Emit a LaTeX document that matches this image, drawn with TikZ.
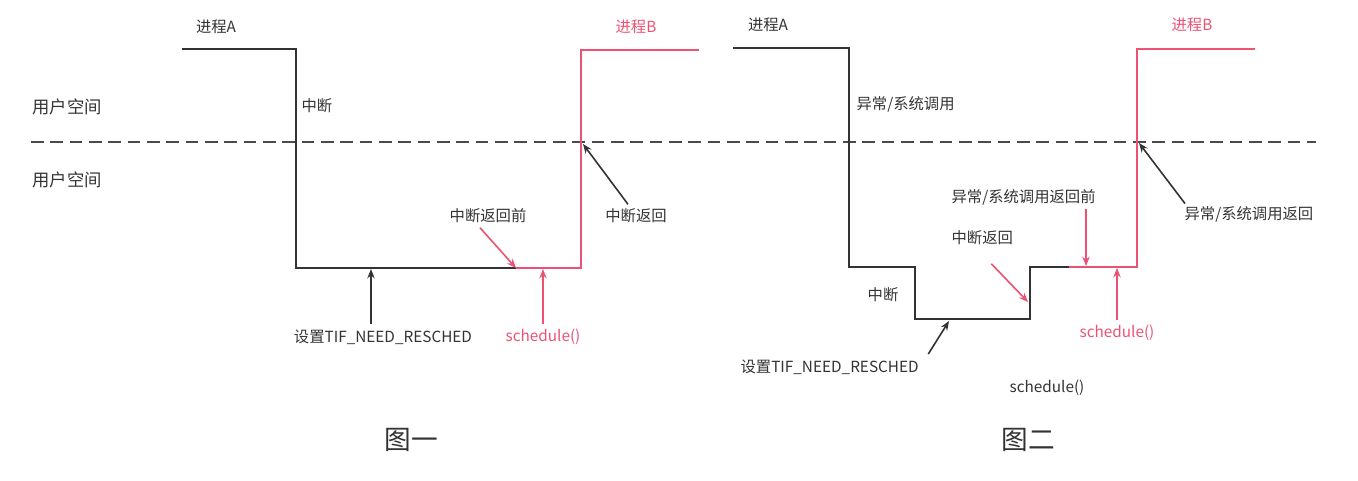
\documentclass[tikz,border=0pt]{standalone}
\usepackage{fontspec}
\setmainfont{Noto Sans CJK SC}
\usetikzlibrary{positioning,arrows.meta,calc}
\definecolor{ink}{HTML}{333333}
\definecolor{procb}{HTML}{EC5274}
\definecolor{rule}{HTML}{4A4A4A}
\tikzset{
  font=\fontsize{11.5}{14}\selectfont,
  >={Stealth[length=7pt,width=5.5pt]},
  trace/.style={line width=1.5pt, draw=ink},
  traceb/.style={trace, draw=procb},
  flow/.style={->, line width=1.2pt, draw=ink},
  flowb/.style={flow, draw=procb},
  lbl/.style={text=ink, inner sep=1pt},
  lblb/.style={lbl, text=procb},
  space/.style={lbl, anchor=west, font=\fontsize{13}{15}\selectfont},
  title/.style={text=ink, inner sep=1pt, font=\fontsize{20}{24}\selectfont},
  border/.style={draw=rule, line width=1.8pt, dash pattern=on 9.5pt off 5pt},
}

\begin{document}
\begin{tikzpicture}[x=0.75pt, y=-0.75pt]
\useasboundingbox (0,0) rectangle (1358,480);

% --- user / kernel boundary -------------------------------------------------------------
\coordinate (bl) at (31,142);
\coordinate (br) at (1316,142);
\draw[border] (bl) -- (br);
\node[space] (us) at (31,107) {用户空间};
\node[space] (ks) at (31,180) {用户空间};

% --- figure 1: interrupt ----------------------------------------------------------------
\coordinate (a0) at (182,49);
\coordinate (a1) at (296,49);
\coordinate (a2) at (296,268);
\coordinate (a3) at (516,268);
\coordinate (b0) at (581,268);
\coordinate (b1) at (581,50);
\coordinate (b2) at (699,50);
\draw[trace] (a0) -- (a1) -- (a2) -- (a3);
\draw[traceb] (a3) -- (b0) -- (b1) -- (b2);

\node[lbl] (pa1) at (216,27) {进程A};
\node[lblb] (pb1) at (636,27) {进程B};
\node[lbl, anchor=west] (irq1) at (300,106) {中断};
\node[lbl] (pre1) at (488,216) {中断返回前};
\node[lbl] (ret1) at (636,216) {中断返回};
\node[lbl] (set1) at (383,337) {设置TIF\_NEED\_RESCHED};
\node[lblb] (sch1) at (543,337) {schedule()};
\node[title] (t1) at (411,440) {图一};

\coordinate (m1) at (371,269);
\coordinate (s1) at (543,269);
\coordinate (h1) at (583,144);
\draw[flowb] ($(pre1.south)+(-8,3)$) -- (a3);
\draw[flow] ($(ret1.north)+(-8,-3)$) -- (h1);
\draw[flow] ($(set1.north -| m1)+(0,-4)$) -- (m1);
\draw[flowb] ($(sch1.north)+(0,-4)$) -- (s1);

% --- figure 2: exception / system call --------------------------------------------------
\coordinate (c0) at (733,48);
\coordinate (c1) at (849,48);
\coordinate (c2) at (849,267);
\coordinate (c3) at (915,267);
\coordinate (c4) at (915,319);
\coordinate (c5) at (1030,319);
\coordinate (c6) at (1030,267);
\coordinate (c7) at (1069,267);
\coordinate (d0) at (1137,267);
\coordinate (d1) at (1137,49);
\coordinate (d2) at (1255,49);
\draw[trace] (c0) -- (c1) -- (c2) -- (c3) -- (c4) -- (c5) -- (c6) -- (c7);
\draw[traceb] (c7) -- (d0) -- (d1) -- (d2);

\node[lbl] (pa2) at (768,25) {进程A};
\node[lblb] (pb2) at (1192,25) {进程B};
\node[lbl, anchor=west] (exc2) at (855,104) {异常/系统调用};
\node[lbl, anchor=west] (pre2) at (950,197) {异常/系统调用返回前};
\node[lbl, anchor=west] (iret2) at (950,238) {中断返回};
\node[lbl] (irq2) at (883,295) {中断};
\node[lbl, anchor=west] (set2) at (739,367) {设置TIF\_NEED\_RESCHED};
\node[lblb] (sch2) at (1117,333) {schedule()};
\node[lbl, anchor=west] (ret2) at (1183,214) {异常/系统调用返回};
\node[lbl] (schk2) at (1047,388) {schedule()};
\node[title] (t2) at (1028,440) {图二};

\coordinate (m2) at (949,321);
\coordinate (p2) at (1086,266);
\coordinate (r2) at (1028,302);
\coordinate (s2) at (1117,268);
\coordinate (h2) at (1139,143);
\draw[flowb] ($(iret2.south)+(9,17)$) -- (r2);
\draw[flowb] ($(pre2.south -| p2)+(0,3)$) -- (p2);
\draw[flow] ($(set2.north east)+(8,-4)$) -- (m2);
\draw[flowb] ($(sch2.north)+(0,-4)$) -- (s2);
\draw[flow] ($(ret2.north west)+(2,-1)$) -- (h2);

\end{tikzpicture}
\end{document}
